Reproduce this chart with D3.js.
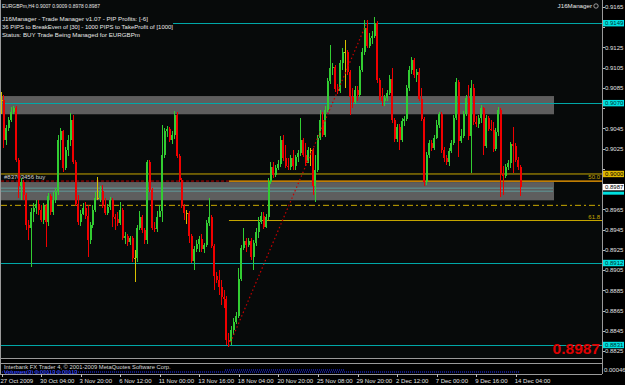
<!DOCTYPE html>
<html>
<head>
<meta charset="utf-8">
<script src="https://cdn.jsdelivr.net/npm/d3@7"></script>
<style>
  body { margin: 0; background: #000; }
  svg { display: block; font-family: "Liberation Sans", Arial, sans-serif; }
</style>
</head>
<body>
<div id="chart"></div>
<script>
const width = 625
const height = 385

// EURGBPm H4 bars, open of each bar = close of the previous one
const firstOpen = 0.9073
const close = [0.9073,0.9034,0.9045,0.9053,0.9061,0.9065,0.9014,0.8988,0.8992,0.8979,
  0.8950,0.8947,0.8962,0.8966,0.8970,0.8964,0.8955,0.8968,0.8953,0.8978,
  0.8962,0.8974,0.8982,0.9034,0.9042,0.9006,0.9024,0.9034,0.9053,0.9012,
  0.8970,0.8953,0.8960,0.8966,0.8958,0.8935,0.8950,0.8964,0.8976,0.8976,
  0.8983,0.8968,0.8961,0.8967,0.8974,0.8957,0.8956,0.8952,0.8964,0.8937,
  0.8939,0.8933,0.8937,0.8917,0.8917,0.8947,0.8957,0.8945,0.8935,0.9012,
  0.8984,0.8947,0.8946,0.8957,0.8963,0.9019,0.9042,0.9044,0.9034,0.9039,
  0.9058,0.9018,0.8994,0.8968,0.8961,0.8961,0.8939,0.8914,0.8926,0.8931,
  0.8936,0.8926,0.8930,0.8952,0.8957,0.8929,0.8899,0.8895,0.8888,0.8878,
  0.8876,0.8836,0.8834,0.8846,0.8854,0.8860,0.8896,0.8927,0.8934,0.8930,
  0.8934,0.8918,0.8932,0.8943,0.8953,0.8958,0.8948,0.8957,0.8992,0.9007,
  0.8999,0.9006,0.9010,0.9034,0.9016,0.9008,0.9007,0.9016,0.9008,0.9017,
  0.9021,0.9034,0.9019,0.9011,0.9024,0.9024,0.8988,0.9004,0.9036,0.9053,
  0.9039,0.9063,0.9092,0.9105,0.9106,0.9084,0.9082,0.9110,0.9121,0.9121,
  0.9101,0.9076,0.9071,0.9083,0.9078,0.9103,0.9121,0.9144,0.9126,0.9134,
  0.9136,0.9149,0.9093,0.9076,0.9072,0.9075,0.9080,0.9094,0.9053,0.9035,
  0.9046,0.9034,0.9052,0.9054,0.9085,0.9103,0.9113,0.9098,0.9101,0.9074,
  0.9054,0.8992,0.9019,0.9031,0.9026,0.9036,0.9048,0.9059,0.9024,0.9016,
  0.9012,0.9023,0.9031,0.9055,0.9091,0.9033,0.9038,0.9059,0.9075,0.9038,
  0.9085,0.9051,0.9049,0.9055,0.9065,0.9028,0.9055,0.9044,0.9043,0.9025,
  0.9041,0.9063,0.9000,0.8998,0.9007,0.9011,0.9030,0.9028,0.9014,0.9007,
  0.8987]
const high = [0.9081,0.9078,0.9048,0.9056,0.9066,0.9067,0.9067,0.9016,0.8996,0.8994,
  0.8981,0.8955,0.8966,0.8971,0.8974,0.8974,0.8969,0.8971,0.8970,0.8981,
  0.8980,0.8982,0.8986,0.9039,0.9045,0.9043,0.9027,0.9039,0.9060,0.9058,
  0.9014,0.8979,0.8964,0.8971,0.8972,0.8969,0.8953,0.8969,0.8982,0.8997,
  0.8988,0.8989,0.8976,0.8970,0.8977,0.8976,0.8960,0.8962,0.8972,0.8966,
  0.8943,0.8941,0.8939,0.8939,0.8925,0.8950,0.8963,0.8959,0.8947,0.9014,
  0.9014,0.8986,0.8953,0.8963,0.8969,0.9048,0.9045,0.9047,0.9046,0.9042,
  0.9062,0.9061,0.9020,0.8996,0.8970,0.8964,0.8963,0.8941,0.8929,0.8935,
  0.8939,0.8941,0.8932,0.8955,0.8976,0.8959,0.8931,0.8903,0.8905,0.8895,
  0.8885,0.8879,0.8843,0.8850,0.8858,0.8864,0.8907,0.8930,0.8947,0.8937,
  0.8937,0.8937,0.8935,0.8947,0.8957,0.8962,0.8962,0.8960,0.8996,0.9012,
  0.9012,0.9009,0.9014,0.9038,0.9039,0.9029,0.9016,0.9019,0.9024,0.9019,
  0.9024,0.9055,0.9036,0.9031,0.9027,0.9026,0.9026,0.9019,0.9039,0.9063,
  0.9061,0.9067,0.9095,0.9127,0.9110,0.9108,0.9089,0.9113,0.9124,0.9132,
  0.9123,0.9103,0.9085,0.9087,0.9087,0.9107,0.9124,0.9152,0.9152,0.9139,
  0.9141,0.9155,0.9151,0.9095,0.9085,0.9078,0.9083,0.9098,0.9105,0.9055,
  0.9049,0.9049,0.9055,0.9057,0.9088,0.9107,0.9116,0.9115,0.9104,0.9105,
  0.9085,0.9056,0.9022,0.9034,0.9034,0.9039,0.9053,0.9061,0.9061,0.9027,
  0.9019,0.9026,0.9034,0.9058,0.9095,0.9093,0.9044,0.9062,0.9078,0.9088,
  0.9093,0.9089,0.9057,0.9058,0.9068,0.9066,0.9058,0.9057,0.9053,0.9051,
  0.9045,0.9066,0.9065,0.9008,0.9010,0.9014,0.9032,0.9046,0.9031,0.9017,
  0.9009]
const low = [0.9059,0.9026,0.9029,0.9042,0.9051,0.9059,0.9012,0.8976,0.8974,0.8974,
  0.8945,0.8935,0.8908,0.8953,0.8960,0.8959,0.8953,0.8951,0.8928,0.8949,
  0.8959,0.8959,0.8971,0.8979,0.9014,0.9002,0.9004,0.9018,0.9028,0.9010,
  0.8968,0.8950,0.8949,0.8959,0.8956,0.8918,0.8931,0.8947,0.8962,0.8974,
  0.8972,0.8966,0.8959,0.8959,0.8964,0.8948,0.8945,0.8949,0.8950,0.8935,
  0.8931,0.8929,0.8930,0.8913,0.8893,0.8913,0.8945,0.8942,0.8931,0.8931,
  0.8982,0.8945,0.8943,0.8943,0.8957,0.8953,0.9016,0.9037,0.9032,0.9030,
  0.9035,0.9016,0.8992,0.8966,0.8955,0.8951,0.8932,0.8912,0.8905,0.8923,
  0.8923,0.8923,0.8922,0.8928,0.8949,0.8927,0.8885,0.8892,0.8880,0.8871,
  0.8868,0.8831,0.8829,0.8831,0.8841,0.8852,0.8858,0.8894,0.8925,0.8923,
  0.8928,0.8915,0.8905,0.8929,0.8937,0.8951,0.8946,0.8947,0.8955,0.8990,
  0.8996,0.8997,0.9004,0.9007,0.9013,0.9006,0.9004,0.9004,0.9004,0.9004,
  0.9012,0.9018,0.9017,0.9008,0.9011,0.9008,0.8979,0.8972,0.9002,0.9034,
  0.9037,0.9037,0.9061,0.9089,0.9098,0.9081,0.9079,0.9080,0.9103,0.9085,
  0.9098,0.9058,0.9065,0.9069,0.9072,0.9076,0.9101,0.9118,0.9124,0.9124,
  0.9128,0.9134,0.9090,0.9073,0.9067,0.9067,0.9072,0.9078,0.9050,0.9032,
  0.9032,0.9024,0.9032,0.9047,0.9052,0.9082,0.9099,0.9095,0.9091,0.9072,
  0.9052,0.8988,0.8989,0.9016,0.9023,0.9024,0.9035,0.9045,0.9021,0.9012,
  0.9009,0.9008,0.9021,0.9029,0.9053,0.9017,0.9031,0.9036,0.9057,0.9034,
  0.9001,0.9048,0.9046,0.9045,0.9050,0.9019,0.9026,0.9042,0.9042,0.9022,
  0.9023,0.9038,0.8977,0.8979,0.8996,0.9004,0.9006,0.9001,0.9012,0.9004,
  0.8978]

const timeLabels = ["27 Oct 2009", "30 Oct 04:00", "3 Nov 20:00", "6 Nov 12:00", "11 Nov 00:00",
  "13 Nov 16:00", "18 Nov 04:00", "20 Nov 20:00", "25 Nov 08:00", "29 Nov 20:00",
  "2 Dec 12:00", "7 Dec 00:00", "9 Dec 16:00", "14 Dec 04:00"]
const barsPerLabel = 16
const priceTicks = [0.9165, 0.9145, 0.9125, 0.9105, 0.9085, 0.9065, 0.9045, 0.9025, 0.9005,
  0.8985, 0.8965, 0.8945, 0.8925, 0.8905, 0.8885, 0.8865, 0.8845, 0.8825]

// drawn objects
const srLevels = [0.9149, 0.9070, 0.8912, 0.8831]
const zones = [[0.9077, 0.9059], [0.8992, 0.8974]]
const zoneLines = [0.8986, 0.8983]
const fibLabels = ["50.0", "61.8"]
const fibPrices = [0.9000, 0.8954]
const orderPrice = 0.8993
const stopPrice = 0.8969
const bid = 0.8987
const trendBars = [92, 148]
const trendPrices = [0.8830, 0.9151]

const headerLines = [
  "EURGBPm,H4  0.9007 0.9009 0.8978 0.8987",
  "J16Manager - Trade Manager v1.07 - PIP Profits: [-6]",
  "36 PIPS to BreakEven of [30] - 1000 PIPS to TakeProfit of [1000]",
  "Status: BUY Trade Being Managed for EURGBPm"
]

const bars = close.map((c, i) => ({
  i: i,
  open: i === 0 ? firstOpen : close[i - 1],
  close: c,
  high: high[i],
  low: low[i]
}))

const plotRight = 602
const plotBottom = 358

const svg = d3.select("#chart")
  .append("svg")
  .attr("width", width)
  .attr("height", height)
  .style("background-color", "#000")

const x = d3.scaleLinear().domain([0, bars.length - 1]).range([1.5, 520.7])
const y = d3.scaleLinear().domain([0.8831, 0.9165]).range([345, 7])
const fmt = d3.format(".4f")

const GREEN = "#32cd32", RED = "#f00000", YELLOW = "#d8c000"
const TEAL = "#00a8a8", GOLD = "#c8a800"

svg.append("rect").attr("x", 0).attr("y", 0).attr("width", plotRight).attr("height", plotBottom)
  .attr("fill", "#070a0a")

// grey zones (behind candles)
svg.append("g").selectAll("rect").data(zones).enter().append("rect")
  .attr("x", 1).attr("width", 553)
  .attr("y", d => y(d[0])).attr("height", d => y(d[1]) - y(d[0]))
  .attr("fill", "#5e5e5e")

svg.append("g").selectAll("line").data(zoneLines).enter().append("line")
  .attr("x1", 1).attr("x2", 553).attr("y1", d => y(d)).attr("y2", d => y(d))
  .attr("stroke", "#5f9a9a").attr("stroke-width", 1)

// support / resistance lines (the top one starts after the header text)
svg.append("g").attr("shape-rendering", "crispEdges")
  .selectAll("line").data(srLevels).enter().append("line")
  .attr("x1", (d, i) => i === 0 ? 173 : 1).attr("x2", plotRight)
  .attr("y1", d => Math.round(y(d)) + 0.5).attr("y2", d => Math.round(y(d)) + 0.5)
  .attr("stroke", TEAL).attr("stroke-width", 1.4)

// fib / order levels
svg.append("line").attr("x1", 1).attr("x2", plotRight)
  .attr("y1", y(fibPrices[0])).attr("y2", y(fibPrices[0]))
  .attr("stroke", GOLD).attr("stroke-width", 1)
svg.append("line").attr("x1", x(trendBars[0])).attr("x2", plotRight)
  .attr("y1", y(fibPrices[1])).attr("y2", y(fibPrices[1]))
  .attr("stroke", GOLD).attr("stroke-width", 1)
svg.append("line").attr("x1", 1).attr("x2", plotRight)
  .attr("y1", y(stopPrice)).attr("y2", y(stopPrice))
  .attr("stroke", GOLD).attr("stroke-width", 1).attr("stroke-dasharray", "6,3,2,3")
svg.append("line").attr("x1", 1).attr("x2", x(trendBars[0]))
  .attr("y1", y(orderPrice)).attr("y2", y(orderPrice))
  .attr("stroke", "#c00000").attr("stroke-width", 1).attr("stroke-dasharray", "3,2")
svg.append("line").attr("x1", x(trendBars[0])).attr("x2", plotRight)
  .attr("y1", y(orderPrice)).attr("y2", y(orderPrice))
  .attr("stroke", "#ffa500").attr("stroke-width", 1.2)

svg.selectAll(".fibl").data(fibLabels).enter().append("text")
  .attr("x", 600).attr("y", (d, i) => y(fibPrices[i]) + (i === 0 ? 5 : -2))
  .attr("text-anchor", "end").attr("font-size", 6).attr("fill", GOLD)
  .text(d => d)

svg.append("text").attr("x", 4).attr("y", y(orderPrice) - 2)
  .attr("font-size", 6).attr("fill", "#d0d0d0").text("#83703456 buy")

// candles
const candles = svg.append("g").attr("shape-rendering", "crispEdges")
  .selectAll("g").data(bars).enter().append("g")

const colorOf = d => d.close > d.open ? GREEN : d.close < d.open ? RED : YELLOW

candles.append("line")
  .attr("x1", d => x(d.i)).attr("x2", d => x(d.i))
  .attr("y1", d => y(Math.max(d.high, d.open, d.close)))
  .attr("y2", d => y(Math.min(d.low, d.open, d.close)))
  .attr("stroke", colorOf).attr("stroke-width", 1)

candles.append("rect")
  .attr("x", d => x(d.i) - 1).attr("width", 2)
  .attr("y", d => y(Math.max(d.open, d.close)))
  .attr("height", d => Math.max(1, Math.abs(y(d.open) - y(d.close))))
  .attr("fill", colorOf)

// trend line from the low to the high
svg.append("line")
  .attr("x1", x(trendBars[0])).attr("y1", y(trendPrices[0]))
  .attr("x2", x(trendBars[1])).attr("y2", y(trendPrices[1]))
  .attr("stroke", "#c80000").attr("stroke-width", 1.2).attr("stroke-dasharray", "1.5,2.5")

// header texts
svg.selectAll(".hdr").data(headerLines).enter().append("text")
  .attr("x", 2).attr("y", (d, i) => [8, 21, 29, 37][i])
  .attr("font-size", 6.2).attr("fill", "#e8e8e8")
  .attr("textLength", (d, i) => [98, 146, 171, 138][i])
  .attr("lengthAdjust", "spacingAndGlyphs")
  .text(d => d)

svg.append("text").attr("x", 592).attr("y", 8).attr("text-anchor", "end")
  .attr("font-size", 6.2).attr("fill", "#e8e8e8").text("J16Manager")
svg.append("circle").attr("cx", 596).attr("cy", 6).attr("r", 2.2)
  .attr("fill", "none").attr("stroke", "#bbb").attr("stroke-width", 0.8)

// big bid
svg.append("text").attr("x", 600).attr("y", 354).attr("text-anchor", "end")
  .attr("font-size", 15.5).attr("font-weight", "bold").attr("fill", "#e00000")
  .text(fmt(bid))

// price axis
const boxes = [
  ...srLevels.map(p => [p, "#00e0e0", "#003030"]),
  [zoneLines[1], "#00e0e0", "#003030"],
  [fibPrices[0], "#e0b800", "#000"],
  [bid, "#ffffff", "#000"]
]
const axisG = svg.append("g")
priceTicks.forEach(p => {
  axisG.append("line").attr("x1", plotRight).attr("x2", plotRight + 3)
    .attr("y1", Math.round(y(p)) + 0.5).attr("y2", Math.round(y(p)) + 0.5).attr("stroke", "#bbb")
  const hidden = boxes.some(b => Math.abs(y(b[0]) - y(p)) < 5.5)
  if (!hidden) {
    axisG.append("text").attr("x", 605).attr("y", y(p) + 2.2)
      .attr("font-size", 6).attr("fill", "#e0e0e0").text(fmt(p))
  }
})

boxes.forEach(([p, bg, fg], k) => {
  // cyan box under the bid box is only a sliver
  const h = k === 4 ? 3 : 6.4
  const top = k === 4 ? y(p) + 0.5 : y(p) - 3.2
  axisG.append("rect").attr("x", 603).attr("y", top).attr("width", 21).attr("height", h).attr("fill", bg)
  if (k !== 4) {
    axisG.append("text").attr("x", 605).attr("y", y(p) + 2.2)
      .attr("font-size", 6).attr("fill", fg).text(fmt(p))
  }
})

// frame
const frame = svg.append("g").attr("stroke", "#9a9a9a").attr("fill", "none").attr("shape-rendering", "crispEdges")
frame.append("line").attr("x1", 0.5).attr("x2", 0.5).attr("y1", 0).attr("y2", 374)
frame.append("line").attr("x1", plotRight + 0.5).attr("x2", plotRight + 0.5).attr("y1", 0).attr("y2", 374)
frame.append("line").attr("x1", 0).attr("x2", plotRight).attr("y1", 358.5).attr("y2", 358.5)
frame.append("line").attr("x1", 0).attr("x2", plotRight).attr("y1", 363.5).attr("y2", 363.5)
frame.append("line").attr("x1", 0).attr("x2", plotRight).attr("y1", 374.5).attr("y2", 374.5)

// sub window (volumes)
svg.append("line").attr("x1", 2).attr("x2", 520).attr("y1", 372).attr("y2", 372)
  .attr("stroke", "#2030ff").attr("stroke-width", 1).attr("stroke-dasharray", "1,1")
svg.append("line").attr("x1", 225).attr("x2", 345).attr("y1", 370).attr("y2", 370)
  .attr("stroke", "#2030ff").attr("stroke-width", 1).attr("stroke-dasharray", "1,1")
svg.append("text").attr("x", 4).attr("y", 369).attr("font-size", 5.8).attr("fill", "#d8d8d8")
  .text("Interbank FX Trader 4, \u00a9 2001-2009 MetaQuotes Software Corp.")
svg.append("text").attr("x", 4).attr("y", 373.5).attr("font-size", 5.8).attr("fill", "#4050ff")
  .text("Volumes(3)  0.00113  0.00113")
svg.append("text").attr("x", 604).attr("y", 372).attr("font-size", 6).attr("fill", "#e0e0e0").text("0.00046")

// time axis
const tAxis = svg.append("g")
timeLabels.forEach((t, k) => {
  const tx = x(k * barsPerLabel)
  tAxis.append("line").attr("x1", Math.round(tx) + 0.5).attr("x2", Math.round(tx) + 0.5)
    .attr("y1", 374).attr("y2", 377).attr("stroke", "#bbb")
  tAxis.append("text").attr("x", tx - 1).attr("y", 383)
    .attr("font-size", 6).attr("fill", "#e0e0e0").text(t)
})
</script>
</body>
</html>
